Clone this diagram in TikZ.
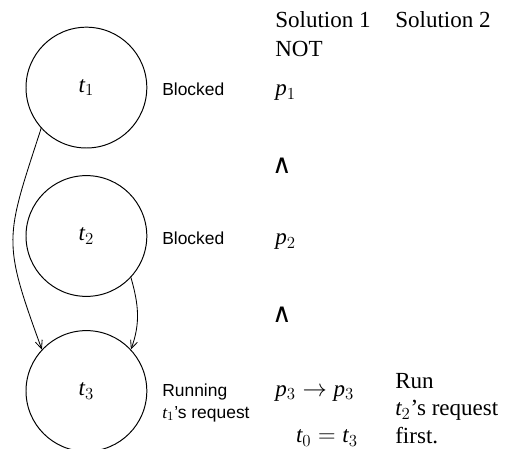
\documentclass[tikz,border=0pt]{standalone}
\usepackage{fontspec}
\setmainfont{Liberation Serif}
\setsansfont{Liberation Sans}
\newfontfamily\symfont{DejaVu Sans}
\usepackage{tikz}
\usetikzlibrary{arrows.meta}
\tikzstyle{tsSerif} = [ 
    text=black, 
    font=\fontsize{16.4}{19.5}\selectfont,
    inner sep=0pt
]
\tikzstyle{tsSans} = [ 
    text=black, 
    font=\sffamily\fontsize{12.4}{15}\selectfont,
    inner sep=0pt,
    align=left
]
\tikzstyle{tsCircle} = [   
        circle,
        tsSerif,
        draw=black,
        line width=0.7pt,
        minimum size=3.02cm
    ]
\tikzstyle{tsWait} = [ 
    -{Straight Barb[length=2mm,width=1.8mm]},
    line width=0.6pt
]
\tikzstyle{tsAnd} = [ 
    text=black, 
    font=\symfont\fontsize{19}{22}\selectfont,
    inner sep=0pt
]

\begin{document}
\begin{tikzpicture}
        
     	\useasboundingbox (0,0) rectangle (12.675,11.2);
     	
     	% threads
     	\node[tsCircle] (t1) at (2.16,9.01) {$\mathit{t}_1$};
     	\node[tsCircle] (t2) at (2.16,5.30) {$\mathit{t}_2$};
     	\node[tsCircle] (t3) at (2.16,1.425) {$\mathit{t}_3$};
     	
     	% states
     	\node[tsSans, anchor=base west] (s1) at (4.05,8.8) {Blocked};
     	\node[tsSans, anchor=base west] (s2) at (4.05,5.09) {Blocked};
     	\node[tsSans, anchor=north west] (s3) at (4.05,1.6) {Running\\$\mathit{t}_1$'s request};
     	
     	% solutions
     	\node[tsSerif, anchor=base west] (sol1) at (6.875,10.5) {Solution 1};
     	\node[tsSerif, anchor=base west] (sol2) at (9.875,10.5) {Solution 2};
     	\node[tsSerif, anchor=base west] (not) at (6.875,9.775) {NOT};
     	\node[tsSerif, anchor=base west] (p1) at (6.875,8.8) {$\mathit{p}_1$};
     	\node[tsAnd] (and1) at (7.05,7.05) {∧};
     	\node[tsSerif, anchor=base west] (p2) at (6.875,5.09) {$\mathit{p}_2$};
     	\node[tsAnd] (and2) at (7.05,3.34) {∧};
     	\node[tsSerif, anchor=base west] (p3) at (6.875,1.3) {$\mathit{p}_3 \rightarrow \mathit{p}_3$};
     	\node[tsSerif, anchor=base east] (eq) at (8.95,0.14) {$\mathit{t}_0 = \mathit{t}_3$};
     	\node[tsSerif, align=left, anchor=north west] (run) at (9.875,1.88) {Run\\$\mathit{t}_2$'s request\\first.};
     	
     	% requests
     	\draw[tsWait] (t1.222) to[out=-108,in=110,looseness=1.35] (t3.137);
     	\draw[tsWait] (t2.-43) to[out=-74,in=70] (t3.43);
         
    \end{tikzpicture}
\end{document}
